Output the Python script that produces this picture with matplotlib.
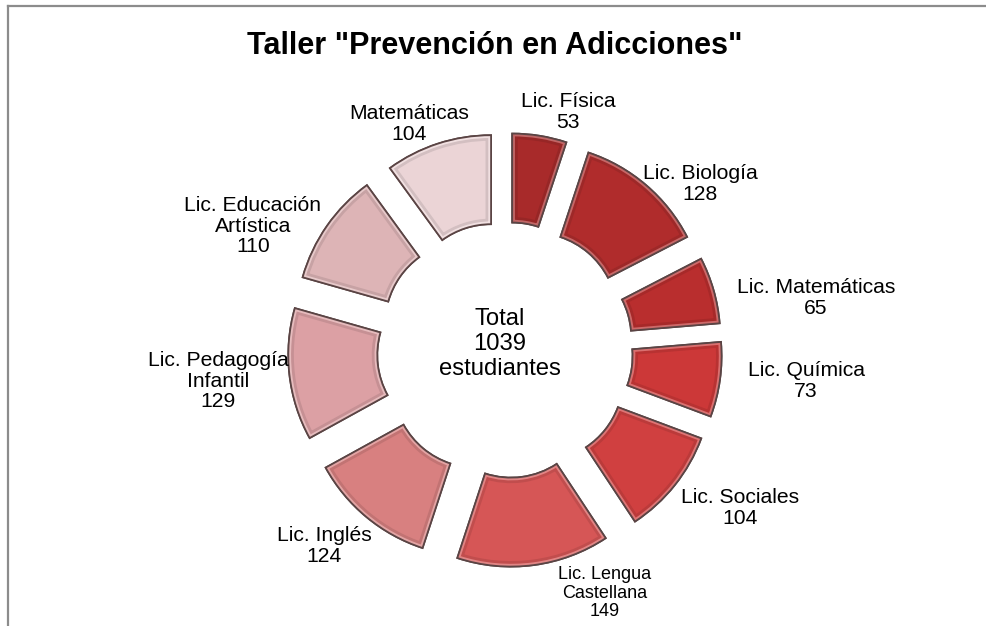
import matplotlib
matplotlib.use("Agg")
import matplotlib.pyplot as plt
from matplotlib.patches import Wedge
from matplotlib.lines import Line2D
from matplotlib.colors import to_rgb

plt.rcParams['font.family'] = ['Liberation Sans', 'DejaVu Sans']

# ---- data ----
categories = ["Lic. Física", "Lic. Biología", "Lic. Matemáticas", "Lic. Química",
              "Lic. Sociales", "Lic. Lengua\nCastellana", "Lic. Inglés",
              "Lic. Pedagogía\nInfantil", "Lic. Educación\nArtística", "Matemáticas"]
values = [53, 128, 65, 73, 104, 149, 124, 129, 110, 104]
title = 'Taller "Prevención en Adicciones"'
center_text = ["Total", "1039", "estudiantes"]

# ---- style / layout ----
colors = ["#A82A2A", "#B02C2C", "#B92E2E", "#CC3838", "#D04040",
          "#D65656", "#D88080", "#DCA0A4", "#DDB4B6", "#EBD4D6"]
W, H = 987, 626
CX, CY = 505, 350          # screen px
R, R_IN, EXPL = 172, 83, 45
label_pos = [(568, 112), (700, 184), (816, 298), (806, 381), (740, 508),
             (605, 593), (324, 546), (218, 381), (253, 226), (409, 124)]
label_size = [15.2, 15.2, 15.2, 15.2, 15.2, 13, 15.2, 15.2, 15.2, 15.2]

fig = plt.figure(figsize=(W / 100, H / 100), dpi=100)
ax = fig.add_axes([0, 0, 1, 1])

wedges, _ = ax.pie(values, radius=R, explode=[EXPL] * len(values), startangle=90,
                   counterclock=False, center=(CX, H - CY), colors=colors,
                   wedgeprops=dict(width=R - R_IN, edgecolor="#5A4444", linewidth=1.2))

def lighten(c, f):
    r, g, b = to_rgb(c)
    return (r + (1 - r) * f, g + (1 - g) * f, b + (1 - b) * f)

def darken(c, f):
    r, g, b = to_rgb(c)
    return (r * (1 - f), g * (1 - f), b * (1 - f))

for w, c in zip(wedges, colors):
    # soft darker rim then light highlight rim (bevel look)
    rim = Wedge(w.center, w.r, w.theta1, w.theta2, width=w.width,
                facecolor="none", edgecolor=darken(c, 0.10), linewidth=8)
    rim.set_clip_path(w)
    ax.add_patch(rim)
    hl = Wedge(w.center, w.r, w.theta1, w.theta2, width=w.width,
               facecolor="none", edgecolor=lighten(c, 0.28), linewidth=4)
    hl.set_clip_path(w)
    ax.add_patch(hl)
    ol = Wedge(w.center, w.r, w.theta1, w.theta2, width=w.width,
               facecolor="none", edgecolor="#5A4444", linewidth=1.3)
    ax.add_patch(ol)

for cat, v, (x, y), fs in zip(categories, values, label_pos, label_size):
    ax.text(x, H - y, f"{cat}\n{v}", ha="center", va="center", fontsize=fs,
            color="black", linespacing=1.08)

ax.text(500, H - 344, "\n".join(center_text), ha="center", va="center",
        fontsize=17.2, color="black", linespacing=1.2)

ax.text(495, H - 46, title, ha="center", va="center", fontsize=22,
        fontweight="bold", color="black")

ax.set_xlim(0, W)
ax.set_ylim(0, H)
ax.set_aspect("equal")
ax.axis("off")

# chart frame (top and left edges visible)
fig.add_artist(Line2D([8 / W, 1.0], [1 - 5.5 / H, 1 - 5.5 / H], color="#8C8C8C", linewidth=1.6))
fig.add_artist(Line2D([8.5 / W, 8.5 / W], [0, 1 - 5.5 / H], color="#8C8C8C", linewidth=1.6))

fig.savefig("out.png", dpi=100, facecolor="white")
